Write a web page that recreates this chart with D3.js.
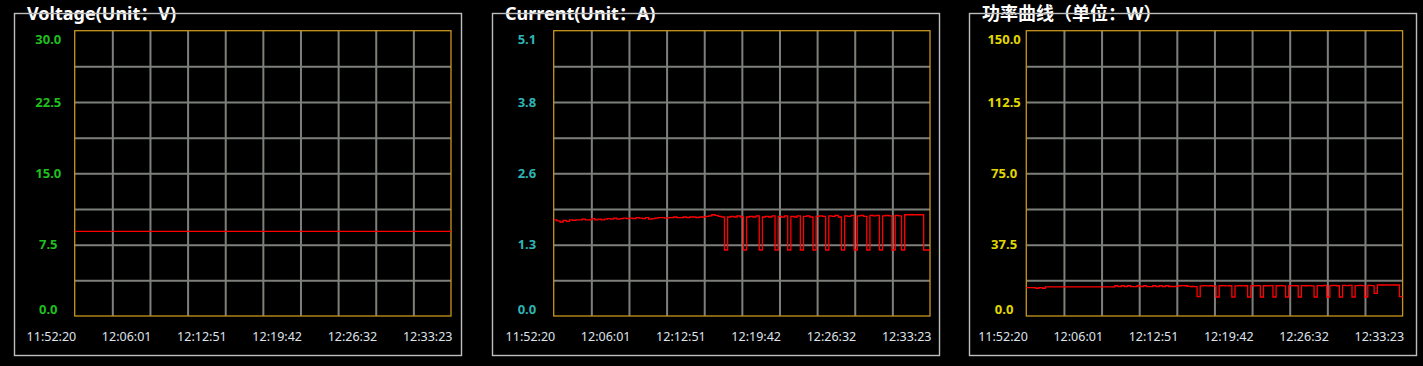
<!DOCTYPE html>
<html>
<head>
<meta charset="utf-8">
<script src="https://cdn.jsdelivr.net/npm/d3@7"></script>
<style>
  html, body { margin: 0; padding: 0; background: #000; }
  #chart { width: 1423px; height: 366px; }
</style>
</head>
<body>
<div id="chart"></div>
<script>
// x axis time labels (same for all three panels)
const timeLabels = ['11:52:20', '12:06:01', '12:12:51', '12:19:42', '12:26:32', '12:33:23'];

// y axis tick labels
const voltageTickLabels = ['0.0', '7.5', '15.0', '22.5', '30.0'];
const currentTickLabels = ['0.0', '1.3', '2.6', '3.8', '5.1'];
const powerTickLabels = ['0.0', '37.5', '75.0', '112.5', '150.0'];

const voltageValues = [
  8.9, 8.9, 8.9, 8.9, 8.9, 8.9, 8.9, 8.9, 8.9, 8.9, 8.9, 8.9,
  8.9, 8.9, 8.9, 8.9, 8.9, 8.9, 8.9, 8.9, 8.9, 8.9, 8.9, 8.9
];

const currentValues = [
  1.72, 1.70, 1.68, 1.71, 1.69, 1.72, 1.71, 1.72,
  1.72, 1.73, 1.72, 1.72, 1.74, 1.72, 1.73, 1.72,
  1.73, 1.74, 1.73, 1.75, 1.73, 1.74, 1.75, 1.74,
  1.75, 1.74, 1.76, 1.75, 1.74, 1.76, 1.73, 1.74,
  1.75, 1.76, 1.76, 1.75, 1.76, 1.76, 1.77, 1.76,
  1.76, 1.77, 1.76, 1.77, 1.77, 1.76, 1.77, 1.77,
  1.78, 1.79, 1.81, 1.80, 1.78, 1.77, 1.18, 1.77,
  1.78, 1.77, 1.79, 1.77, 1.18, 1.77, 1.78, 1.77,
  1.79, 1.18, 1.77, 1.78, 1.77, 1.79, 1.18, 1.78,
  1.77, 1.79, 1.18, 1.78, 1.77, 1.79, 1.18, 1.78,
  1.79, 1.77, 1.18, 1.78, 1.79, 1.78, 1.18, 1.79,
  1.78, 1.80, 1.77, 1.18, 1.79, 1.78, 1.80, 1.18,
  1.79, 1.80, 1.78, 1.18, 1.80, 1.79, 1.80, 1.18,
  1.79, 1.80, 1.79, 1.18, 1.80, 1.79, 1.18, 1.81,
  1.81, 1.81, 1.81, 1.81, 1.81, 1.18, 1.18, 1.18
];

const powerValues = [
  14.9, 14.9, 14.9, 14.6, 14.9, 14.6, 15.3, 15.3,
  15.3, 15.3, 15.3, 15.3, 15.3, 15.3, 15.3, 15.3,
  15.3, 15.3, 15.3, 15.3, 15.3, 15.3, 15.3, 15.3,
  15.3, 15.3, 15.3, 15.3, 15.9, 15.4, 15.9, 15.4,
  15.9, 15.4, 15.4, 15.9, 15.4, 15.9, 15.4, 15.4,
  15.9, 15.4, 15.9, 15.4, 15.9, 15.5, 15.5, 15.6,
  15.9, 16.0, 15.9, 15.6, 15.5, 15.4, 10.2, 15.8,
  16.0, 15.8, 15.9, 15.7, 10.0, 15.9, 16.0, 15.8,
  15.9, 10.0, 15.8, 16.0, 15.8, 15.9, 10.0, 15.9,
  15.8, 16.0, 10.0, 15.9, 15.8, 16.0, 10.0, 15.9,
  16.0, 15.8, 10.0, 15.9, 16.0, 15.9, 10.0, 16.0,
  15.9, 16.0, 15.8, 10.0, 16.0, 15.9, 16.1, 10.0,
  16.0, 16.1, 15.9, 10.0, 16.1, 16.0, 16.1, 10.0,
  16.0, 16.1, 16.0, 10.0, 16.1, 16.0, 11.9, 16.3,
  16.3, 16.3, 16.3, 16.3, 16.3, 16.3, 10.2, 10.2
];

// one group box per quantity
const panels = [
  { title: 'Voltage(Unit：V)', values: voltageValues, max: 30, tickLabels: voltageTickLabels,
    tickColor: '#1fbf1f', boxX: 14, plotX: 74.7, labelOffset: 26.4 },
  { title: 'Current(Unit：A)', values: currentValues, max: 5.1, tickLabels: currentTickLabels,
    tickColor: '#2fb4b4', boxX: 492, plotX: 553.7, labelOffset: 26.8 },
  { title: '功率曲线（单位：W）', values: powerValues, max: 150, tickLabels: powerTickLabels,
    tickColor: '#e0d800', boxX: 969, plotX: 1026.3, labelOffset: 22.2 }
];

const boxWidth = 447;
const boxTop = 13.5;
const boxBottom = 355.5;
const plotWidth = 376.3;
const plotTop = 30.7;
const plotBottom = 316;
const plotHeight = plotBottom - plotTop;

const svg = d3.select('#chart')
  .append('svg')
  .attr('width', 1423)
  .attr('height', 366)
  .style('background', '#000');

panels.forEach(p => {
  const g = svg.append('g');

  // group box frame
  g.append('rect')
    .attr('x', p.boxX + 0.5)
    .attr('y', boxTop)
    .attr('width', boxWidth)
    .attr('height', boxBottom - boxTop)
    .attr('fill', 'none')
    .attr('stroke', '#bdbdbd')
    .attr('stroke-width', 1.4);

  // title sits on the top frame line
  const title = g.append('text')
    .attr('x', p.boxX + 13)
    .attr('y', 19.5)
    .attr('fill', '#fff')
    .attr('font-family', "'Noto Sans', 'Noto Sans CJK SC', sans-serif")
    .attr('font-weight', 'bold')
    .attr('font-size', '18px')
    .text(p.title);
  const tw = title.node().getComputedTextLength();
  title.lower();
  g.insert('rect', 'text')
    .attr('x', p.boxX + 8)
    .attr('y', 5)
    .attr('width', tw + 10)
    .attr('height', 16)
    .attr('fill', '#000');

  const x = d3.scaleLinear()
    .domain([0, p.values.length - 1])
    .range([p.plotX, p.plotX + plotWidth]);

  const y = d3.scaleLinear()
    .domain([0, p.max])
    .range([plotBottom, plotTop]);

  // vertical grid: 10 columns
  const xGrid = d3.scaleLinear().domain([0, 10]).range([p.plotX, p.plotX + plotWidth]);
  g.append('g')
    .attr('transform', `translate(0,${plotBottom})`)
    .call(d3.axisBottom(xGrid).tickValues(d3.range(1, 10)).tickSize(-plotHeight).tickFormat(''))
    .call(a => a.select('.domain').remove())
    .selectAll('line')
    .attr('stroke', '#7d807a')
    .attr('stroke-width', 2);

  // horizontal grid: 8 rows
  const yGridValues = d3.range(1, 8).map(k => p.max * k / 8);
  g.append('g')
    .attr('transform', `translate(${p.plotX},0)`)
    .call(d3.axisLeft(y).tickValues(yGridValues).tickSize(-plotWidth).tickFormat(''))
    .call(a => a.select('.domain').remove())
    .selectAll('line')
    .attr('stroke', '#7d807a')
    .attr('stroke-width', 2);

  // plot frame
  g.append('rect')
    .attr('x', p.plotX)
    .attr('y', plotTop)
    .attr('width', plotWidth)
    .attr('height', plotHeight)
    .attr('fill', 'none')
    .attr('stroke', '#c8951c')
    .attr('stroke-width', 1.3);

  // y tick labels, end labels pulled inside the plot height
  const yLabelValues = p.tickLabels.map((t, k) => p.max * k / 4);
  g.selectAll('.ylab')
    .data(p.tickLabels)
    .enter().append('text')
    .attr('class', 'ylab')
    .attr('x', p.plotX - p.labelOffset)
    .attr('y', (d, k) => Math.min(plotBottom - 7, Math.max(plotTop + 8.5, y(yLabelValues[k]))))
    .attr('dy', '0.35em')
    .attr('text-anchor', 'middle')
    .attr('fill', p.tickColor)
    .attr('font-family', "'Noto Sans', sans-serif")
    .attr('font-weight', 'bold')
    .attr('font-size', '13px')
    .text(d => d);

  // x time labels, right aligned on every second grid column
  const xLab = d3.scalePoint().domain(timeLabels).range([p.plotX, p.plotX + plotWidth]);
  g.selectAll('.xlab')
    .data(timeLabels)
    .enter().append('text')
    .attr('class', 'xlab')
    .attr('x', d => xLab(d) + 1.5)
    .attr('y', 341)
    .attr('text-anchor', 'end')
    .attr('fill', '#dfe3ea')
    .attr('font-family', "'Noto Sans', sans-serif")
    .attr('font-size', '12.5px')
    .text(d => d);

  // data line
  const line = d3.line()
    .x((d, i) => x(i))
    .y(d => y(d))
    .curve(d3.curveStepAfter);

  g.append('path')
    .datum(p.values)
    .attr('fill', 'none')
    .attr('stroke', '#ff0000')
    .attr('stroke-width', 1.3)
    .attr('d', line);
});
</script>
</body>
</html>
